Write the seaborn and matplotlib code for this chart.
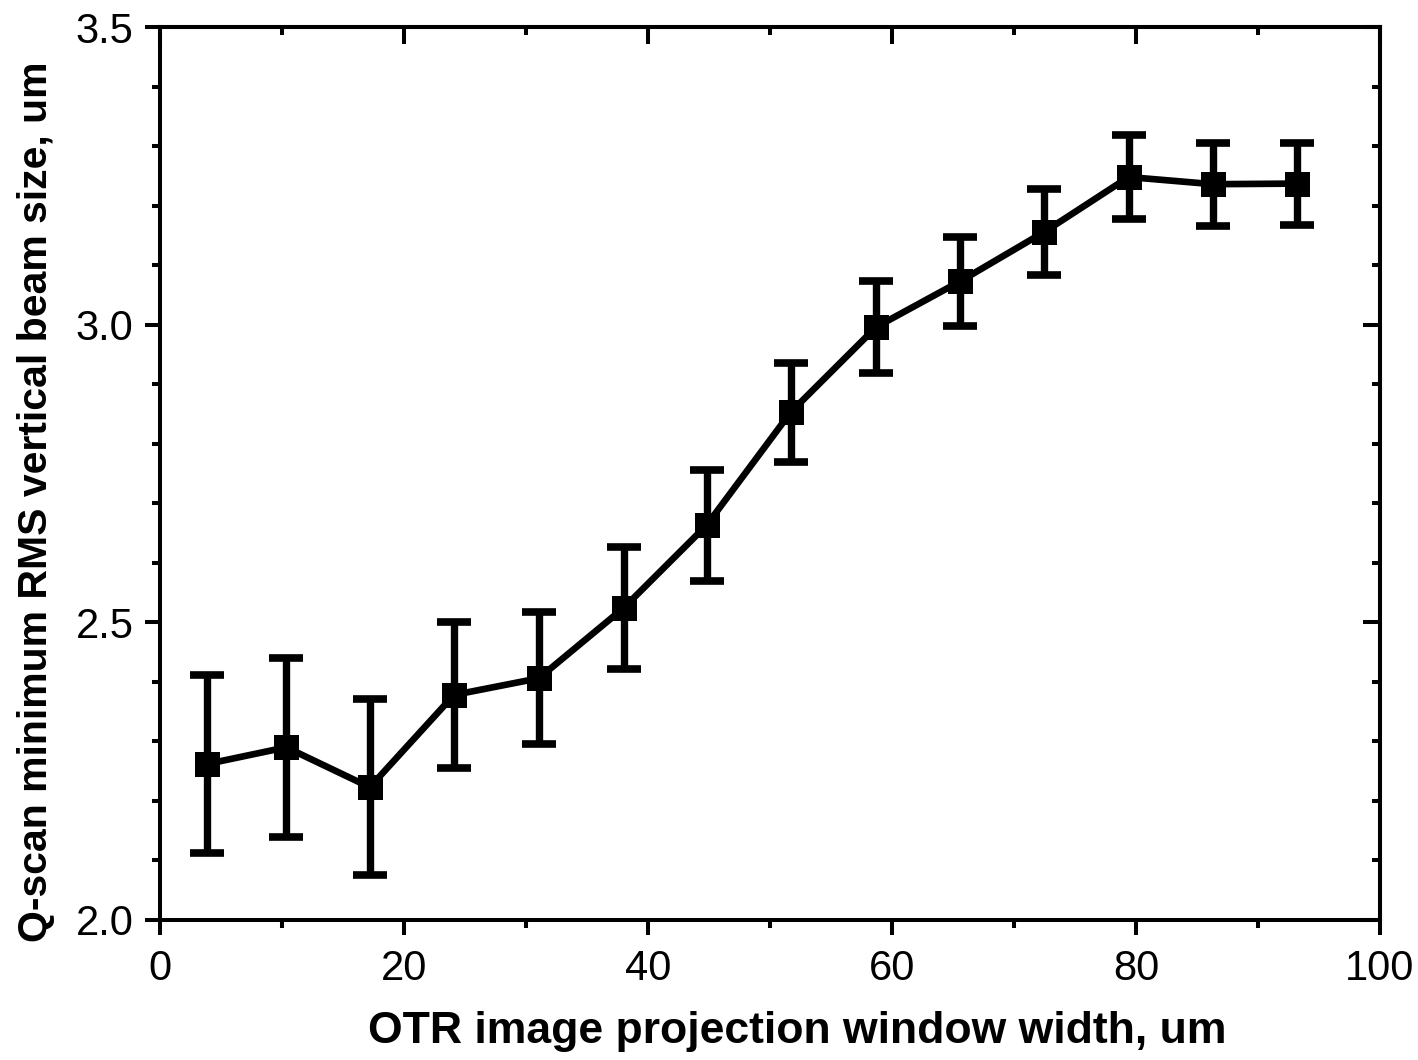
import matplotlib
matplotlib.use("Agg")
import matplotlib.pyplot as plt
import seaborn as sns
import pandas as pd
from matplotlib.ticker import MultipleLocator, FormatStrFormatter

window_width = [3.85, 10.35, 17.2, 24.1, 31.05, 38.0, 44.8, 51.7, 58.7, 65.6, 72.5, 79.4, 86.3, 93.2]
beam_size = [2.262, 2.290, 2.223, 2.378, 2.406, 2.524, 2.663, 2.853, 2.996, 3.073, 3.156, 3.248, 3.236, 3.237]
beam_err = [0.149, 0.150, 0.148, 0.122, 0.111, 0.102, 0.093, 0.083, 0.077, 0.075, 0.072, 0.070, 0.070, 0.069]

df = pd.DataFrame({"w": window_width, "s": beam_size, "e": beam_err})

sns.set_style("ticks")
plt.rcParams['font.family'] = ['Liberation Sans', 'DejaVu Sans']
plt.rcParams['text.color'] = 'black'
plt.rcParams['axes.labelcolor'] = 'black'
plt.rcParams['xtick.color'] = 'black'
plt.rcParams['ytick.color'] = 'black'

fig = plt.figure(figsize=(14.18, 10.6), dpi=100)
ax = fig.add_axes([0.1128, 0.1321, 0.9732 - 0.1128, 0.9745 - 0.1321])

ax.errorbar(df["w"], df["s"], yerr=df["e"], fmt="none", ecolor="black",
            elinewidth=5.3, capsize=12, capthick=5.5, zorder=2)
sns.lineplot(data=df, x="w", y="s", ax=ax, color="black", linewidth=4.8,
             marker="s", markersize=18, markeredgewidth=0, zorder=3)

ax.set_xlim(0, 100)
ax.set_ylim(2.0, 3.5)
ax.xaxis.set_major_locator(MultipleLocator(20))
ax.xaxis.set_minor_locator(MultipleLocator(10))
ax.yaxis.set_major_locator(MultipleLocator(0.5))
ax.yaxis.set_minor_locator(MultipleLocator(0.1))
ax.xaxis.set_major_formatter(FormatStrFormatter("%d"))
ax.yaxis.set_major_formatter(FormatStrFormatter("%.1f"))

for sp in ax.spines.values():
    sp.set_visible(True)
    sp.set_linewidth(2.9)
    sp.set_color("black")

ax.tick_params(which="major", direction="out", length=11, width=2.9, labelsize=30,
               colors="black", pad=8)
ax.tick_params(axis="x", which="major", pad=10)
ax.tick_params(which="minor", direction="out", length=5.5, width=2.9)

axt = ax.secondary_xaxis("top")
axt.xaxis.set_major_locator(MultipleLocator(20))
axt.xaxis.set_minor_locator(MultipleLocator(10))
axt.tick_params(which="major", direction="in", length=12, width=2.9, labeltop=False)
axt.tick_params(which="minor", direction="in", length=6, width=2.9)
axr = ax.secondary_yaxis("right")
axr.yaxis.set_major_locator(MultipleLocator(0.5))
axr.yaxis.set_minor_locator(MultipleLocator(0.1))
axr.tick_params(which="major", direction="in", length=12, width=2.9, labelright=False)
axr.tick_params(which="minor", direction="in", length=6, width=2.9)
for s in list(axt.spines.values()) + list(axr.spines.values()):
    s.set_linewidth(2.9)

ax.set_xlabel("OTR image projection window width, um", fontsize=32, fontweight="bold",
              color="black")
ax.set_ylabel("Q-scan minimum RMS vertical beam size, um", fontsize=29.5, fontweight="bold",
              color="black")
ax.xaxis.set_label_coords(0.522, -0.102)
ax.yaxis.set_label_coords(-0.086, 0.468)

fig.savefig("out.png", dpi=100)
